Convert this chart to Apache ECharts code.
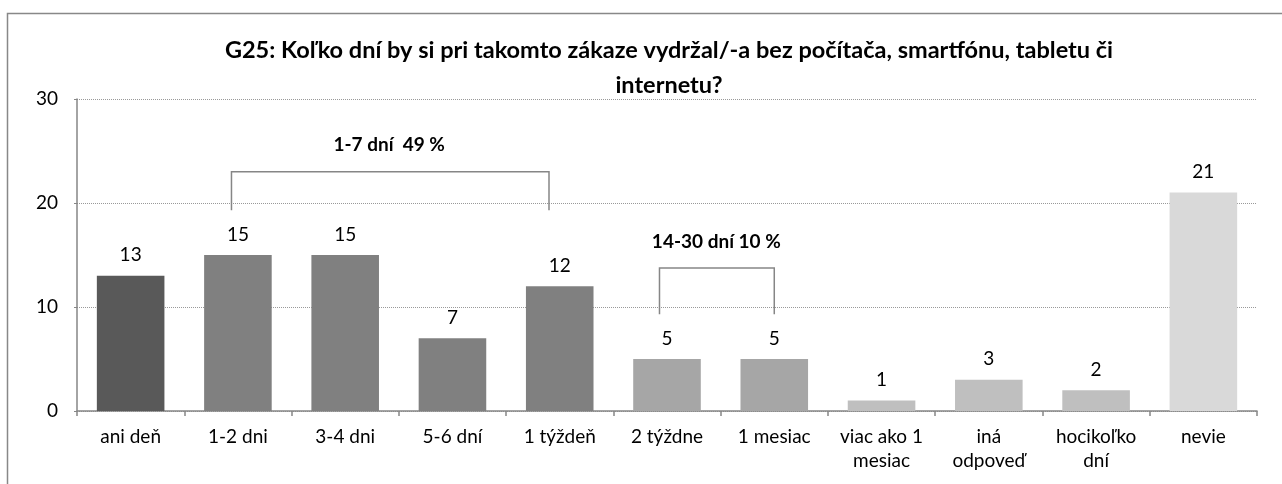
<!DOCTYPE html>
<html>
<head>
<meta charset="utf-8">
<script src="https://cdn.jsdelivr.net/npm/echarts@6/dist/echarts.min.js"></script>
<style>
  html, body { margin: 0; padding: 0; background: #fff; }
  #chart { width: 1282px; height: 484px; }
</style>
</head>
<body>
<div id="chart"></div>
<script>
const categories = ["ani deň", "1-2 dni", "3-4 dni", "5-6 dní", "1 týždeň", "2 týždne", "1 mesiac", "viac ako 1\nmesiac", "iná\nodpoveď", "hocikoľko\ndní", "nevie"];
const values = [13, 15, 15, 7, 12, 5, 5, 1, 3, 2, 21];
const barColors = ["#595959", "#808080", "#808080", "#808080", "#808080", "#a6a6a6", "#a6a6a6", "#bfbfbf", "#bfbfbf", "#bfbfbf", "#d9d9d9"];
const yTicks = [0, 10, 20, 30];
// brackets: [from index, to index, leg bottom, bracket top, label x, label y, label]
const brackets = [
  [0.94, 3.9, 19.3, 23.0, 2.41, 25.6, "1-7 dní  49 %"],
  [4.93, 6.0, 9.3, 13.75, 5.46, 16.3, "14-30 dní 10 %"]
];

const chart = echarts.init(document.getElementById("chart"), null, { renderer: "canvas" });
const font = "Lato, 'Open Sans', sans-serif";

chart.setOption({
  animation: false,
  textStyle: { fontFamily: font },
  title: {
    text: "G25: Koľko dní by si pri takomto zákaze vydržal/-a bez počítača, smartfónu, tabletu či\ninternetu?",
    left: 664, top: 28, textAlign: "center",
    textStyle: { fontFamily: font, fontSize: 23.5, fontWeight: "bold", color: "#000", lineHeight: 35 }
  },
  graphic: [{ type: "polyline", shape: { points: [[7.5, 495], [7.5, 13.5], [1290, 13.5]] }, style: { fill: null, stroke: "#888", lineWidth: 1.5 }, silent: true }],
  grid: { left: 77, right: 25, top: 99, bottom: 73 },
  xAxis: {
    type: "category", data: categories,
    axisLine: { lineStyle: { color: "#868686", width: 1.5 } },
    axisTick: { show: true, length: 5, lineStyle: { color: "#868686", width: 1.5 } },
    axisLabel: { color: "#000", fontSize: 19, margin: 14, lineHeight: 24, interval: 0 }
  },
  yAxis: {
    type: "value", min: yTicks[0], max: yTicks[yTicks.length - 1], interval: 10,
    axisLine: { show: true, lineStyle: { color: "#868686", width: 1.5 } },
    axisTick: { show: true, length: 3, lineStyle: { color: "#868686" } },
    axisLabel: { color: "#000", fontSize: 19, margin: 19 },
    splitLine: { lineStyle: { color: "#999", type: [1, 1], width: 1 } }
  },
  series: [
    {
      type: "bar", barWidth: "63%",
      data: values.map((v, i) => ({ value: v, itemStyle: { color: barColors[i] } })),
      label: { show: true, position: "top", distance: 11, color: "#000", fontSize: 19 }
    },
    {
      type: "custom", data: brackets, silent: true, z: 5,
      renderItem: (params, api) => {
        const b = brackets[params.dataIndex];
        const band = api.size([1, 0])[0];
        // category axis rounds indices, so add the fractional part by band width
        const pt = (xi, v) => {
          const base = Math.floor(xi);
          const p = api.coord([base, v]);
          return [p[0] + (xi - base) * band, p[1]];
        };
        const p1 = pt(b[0], b[2]);
        const p2 = pt(b[0], b[3]);
        const p3 = pt(b[1], b[3]);
        const p4 = pt(b[1], b[2]);
        const lab = pt(b[4], b[5]);
        return {
          type: "group",
          children: [
            { type: "polyline", shape: { points: [p1, p2, p3, p4] }, style: { stroke: "#868686", lineWidth: 1.5, fill: null } },
            { type: "text", x: lab[0], y: lab[1], style: { text: b[6], fill: "#000", font: "bold 19px " + font, align: "center", verticalAlign: "middle" } }
          ]
        };
      }
    }
  ]
});
</script>
</body>
</html>
